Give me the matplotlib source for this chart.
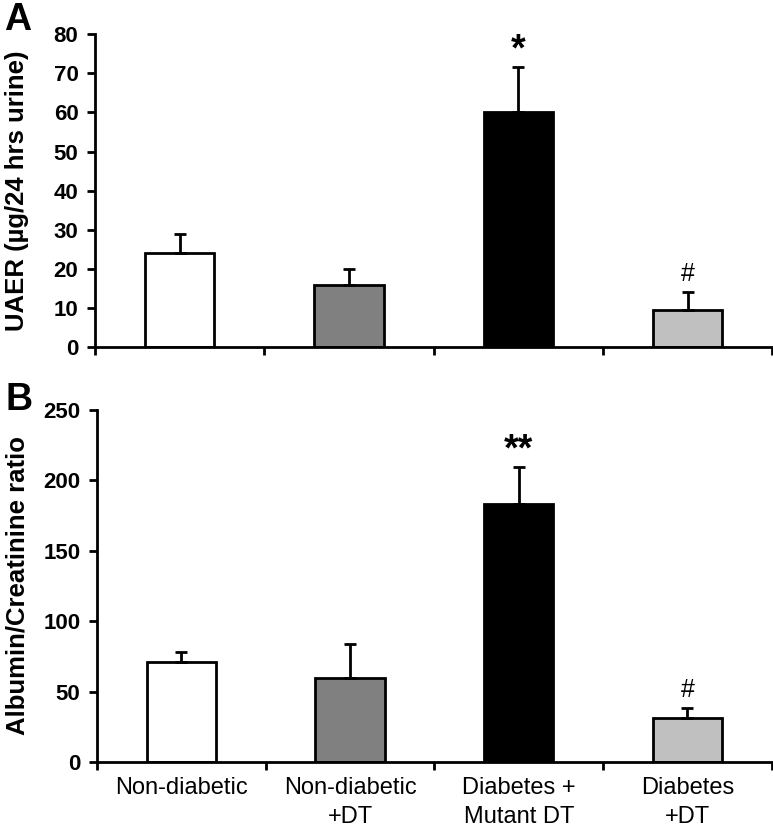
import numpy as np
import matplotlib.pyplot as plt

plt.rcParams['font.family'] = ['Liberation Sans', 'DejaVu Sans']

## -------- data -------- ##
groups   = ["Non-diabetic", "Non-diabetic\n+DT", "Diabetes +\nMutant DT", "Diabetes\n+DT"]
colours  = ["white", "#808080", "black", "#c0c0c0"]

uaer     = [24.0, 16.0, 60.0, 9.5]        # ug/24 hrs urine
uaer_err = [5.0, 4.0, 11.6, 4.6]
uaer_sig = ["", "", "*", "#"]

acr      = [70.8, 59.4, 183.0, 31.0]      # albumin/creatinine ratio
acr_err  = [7.5, 24.0, 26.5, 7.6]
acr_sig  = ["", "", "**", "#"]

fig = plt.figure(figsize=(7.73, 8.31), dpi=100)
axA = fig.add_axes([0.123, 0.582, 0.876, 0.377])
axB = fig.add_axes([0.1255, 0.083, 0.873, 0.424])

x = np.arange(len(groups))


def panel(ax, vals, errs, sig, ymax, step, ylabel, letter, show_x, label_x, letter_y):
    ax.bar(x, vals, width=0.41, color=colours, edgecolor="black", linewidth=2,
           yerr=[np.zeros(len(vals)), errs],
           error_kw=dict(ecolor="black", elinewidth=2, capsize=4, capthick=2))
    for xi, v, e, s in zip(x, vals, errs, sig):
        if s == "":
            continue
        if s == "#":
            ax.annotate(s, (xi, v + e), xytext=(0, 13), textcoords="offset points",
                        ha="center", va="center", fontsize=18)
        else:
            ax.annotate(s, (xi, v + e), xytext=(0, 12), textcoords="offset points",
                        ha="center", va="center", fontsize=27, fontweight="bold")
    ax.set_xlim(-0.5, len(groups) - 0.5)
    ax.set_ylim(0, ymax)
    ax.set_yticks(np.arange(0, ymax + 1, step))
    ax.set_xticks(np.arange(-0.5, len(groups), 1.0))
    ax.set_xticklabels([])
    ax.tick_params(axis="both", which="major", direction="out", length=6, width=2,
                   labelsize=16, pad=6)
    for lab in ax.get_yticklabels():
        lab.set_fontweight("bold")
    if show_x:
        ax.set_xticks(x, minor=True)
        ax.set_xticklabels(groups, minor=True, fontsize=17, linespacing=1.4)
        ax.tick_params(axis="x", which="minor", length=0, pad=11)
    for side in ["top", "right"]:
        ax.spines[side].set_visible(False)
    for side in ["left", "bottom"]:
        ax.spines[side].set_linewidth(2)
    ax.set_ylabel(ylabel, fontsize=18.5, fontweight="bold")
    ax.yaxis.set_label_coords(label_x, 0.5)
    ax.text(-0.135, letter_y, letter, transform=ax.transAxes, fontsize=27,
            fontweight="bold", ha="left", va="center")


panel(axA, uaer, uaer_err, uaer_sig, 80, 10, "UAER (µg/24 hrs urine)", "A", False, -0.097, 1.045)
panel(axB, acr, acr_err, acr_sig, 250, 50, "Albumin/Creatinine ratio", "B", True, -0.10, 1.028)

fig.savefig("out.png", dpi=100)
